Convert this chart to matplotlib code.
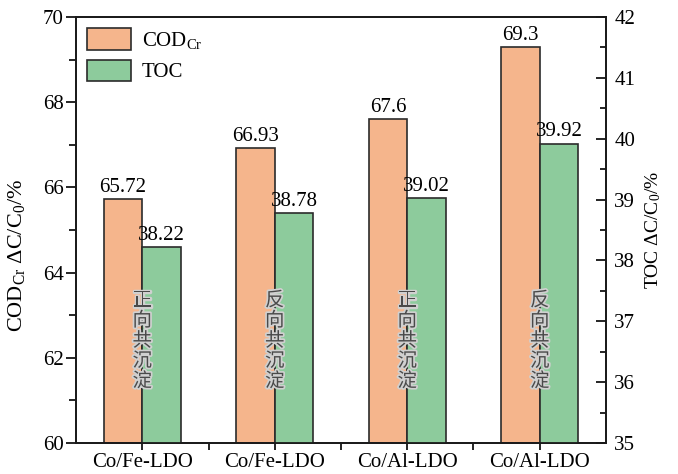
import matplotlib
matplotlib.use("Agg")
import matplotlib.pyplot as plt
import matplotlib.patheffects as pe
from matplotlib.ticker import MultipleLocator, FixedLocator
import numpy as np

categories = ["Co/Fe-LDO", "Co/Fe-LDO", "Co/Al-LDO", "Co/Al-LDO"]
methods = ["正向共沉淀", "反向共沉淀", "正向共沉淀", "反向共沉淀"]
cod_values = [65.72, 66.93, 67.6, 69.3]
toc_values = [38.22, 38.78, 39.02, 39.92]
cod_labels = ["65.72", "66.93", "67.6", "69.3"]
toc_labels = ["38.22", "38.78", "39.02", "39.92"]

plt.rcParams["font.family"] = ["Liberation Serif", "Noto Sans CJK SC"]
plt.rcParams["mathtext.fontset"] = "custom"
plt.rcParams["mathtext.rm"] = "Liberation Serif"
plt.rcParams["mathtext.it"] = "Liberation Serif:italic"

cod_color = "#F5B58C"
toc_color = "#8DCB9C"
edge = "#2b2b2b"

fig = plt.figure(figsize=(6.78, 4.74), dpi=100)
ax = fig.add_axes([0.1121, 0.0654, 0.7817, 0.8987])
ax2 = ax.twinx()

x = np.arange(len(categories))
w = 0.29

b1 = ax.bar(x - w / 2, cod_values, width=w, color=cod_color, edgecolor=edge,
            linewidth=1.2, label="COD$_{\\mathrm{Cr}}$", zorder=2)
b2 = ax2.bar(x + w / 2, toc_values, width=w, color=toc_color, edgecolor=edge,
             linewidth=1.2, label="TOC", zorder=2)

ax.set_xlim(-0.5, 3.5)
ax.set_ylim(60, 70)
ax2.set_ylim(35, 42)

ax.set_xticks(x)
ax.set_xticklabels(categories, fontsize=15)
ax.xaxis.set_minor_locator(FixedLocator([0.5, 1.5, 2.5]))
ax.tick_params(axis="x", which="major", direction="inout", length=10, width=1.2, pad=2)
ax.tick_params(axis="x", which="minor", direction="out", length=5, width=1.2)

ax.yaxis.set_major_locator(MultipleLocator(2))
ax.yaxis.set_minor_locator(MultipleLocator(1))
ax.tick_params(axis="y", which="major", direction="out", length=7, width=1.2,
               labelsize=15, pad=2)
ax.tick_params(axis="y", which="minor", direction="out", length=5, width=1.2)

ax2.yaxis.set_major_locator(MultipleLocator(1))
ax2.yaxis.set_minor_locator(MultipleLocator(0.5))
ax2.tick_params(axis="y", which="major", direction="in", length=7, width=1.2,
                labelsize=15, pad=6)
ax2.tick_params(axis="y", which="minor", direction="in", length=4, width=1.2)

for a in (ax, ax2):
    for s in a.spines.values():
        s.set_linewidth(1.3)
        s.set_color("#1a1a1a")

ax.set_ylabel("COD$_{\\mathrm{Cr}}$ ΔC/C$_{0}$/%", fontsize=16)
ax.yaxis.set_label_coords(-0.092, 0.44)
ax2.set_ylabel("TOC ΔC/C$_{0}$/%", fontsize=14, labelpad=6)

for xi, v, t in zip(x - w / 2, cod_values, cod_labels):
    ax.text(xi, v + 0.05, t, ha="center", va="bottom", fontsize=15, zorder=4)
for xi, v, t in zip(x + w / 2, toc_values, toc_labels):
    ax2.text(xi, v + 0.035, t, ha="center", va="bottom", fontsize=15, zorder=4)

for xi, m in zip(x, methods):
    ax2.text(xi, 36.68, "\n".join(m), ha="center", va="center", fontsize=14,
             family=["Noto Sans CJK SC"], color="#4a4a4a", linespacing=0.95,
             zorder=5,
             path_effects=[pe.withStroke(linewidth=2.5, foreground="#d0d0d0")])

handles = [b1, b2]
ax2.legend(handles, [h.get_label() for h in handles], loc="upper left",
           frameon=False, fontsize=15, handlelength=2.1, handleheight=1.2,
           borderaxespad=0.15, labelspacing=0.4, handletextpad=0.5)

fig.savefig("out.png", dpi=100)
